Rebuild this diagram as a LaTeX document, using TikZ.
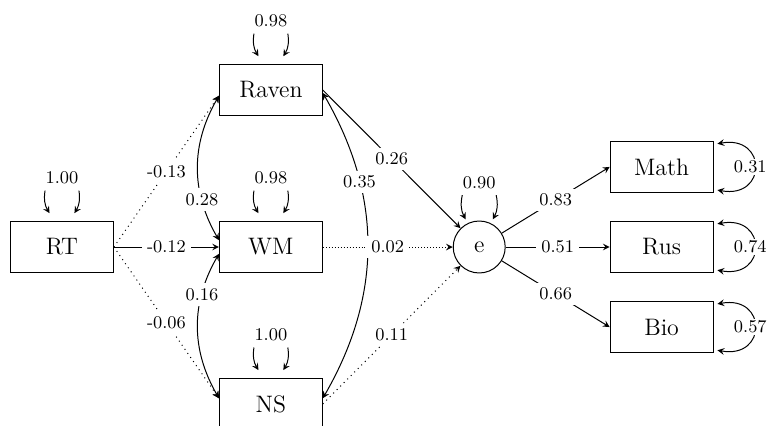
\documentclass[tikz,border=0pt]{standalone}
\usetikzlibrary{positioning,calc,arrows}
\tikzstyle{var} = [rectangle, minimum width=1.82cm, minimum height=0.9cm, text centered, draw=black, font=\large]
\tikzstyle{lat} = [circle, minimum size=0.92cm, inner sep=0pt, draw=black, font=\large]
\tikzstyle{lbl} = [fill=white, inner sep=2.5pt, font=\small]
\tikzstyle{arrow} = [draw, ->, >=stealth]
\tikzstyle{cov} = [draw, <->, >=stealth]

\begin{document}
\begin{tikzpicture}[line width=0.5pt]
    \useasboundingbox (-1.097,-3.168) rectangle (12.567,4.372);

    \node (RT) [var] at (0,0) {RT};
    \node (WM) [var, right=1.86cm of RT] {WM};
    \node (Raven) [var, above=1.86cm of WM] {Raven};
    \node (NS) [var, below=1.86cm of WM] {NS};
    \node (e) [lat, right=2.3cm of WM] {e};
    \node (Rus) [var, right=1.84cm of e] {Rus};
    \node (Math) [var, above=0.5cm of Rus] {Math};
    \node (Bio) [var, below=0.5cm of Rus] {Bio};

    % variances on top
    \node (vRT) [lbl, above=0.56cm of RT] {1.00};
    \node (vRaven) [lbl, above=0.56cm of Raven] {0.98};
    \node (vWM) [lbl, above=0.56cm of WM] {0.98};
    \node (vNS) [lbl, above=0.56cm of NS] {1.00};
    \node (ve) [lbl, above=0.47cm of e] {0.90};

    \draw [arrow] ([xshift=-0.3cm,yshift=-0.02cm]vRT.south) to[bend right=20] ([xshift=-0.22cm,yshift=0.14cm]RT.north);
    \draw [arrow] ([xshift=0.3cm,yshift=-0.02cm]vRT.south) to[bend left=20] ([xshift=0.22cm,yshift=0.14cm]RT.north);
    \draw [arrow] ([xshift=-0.3cm,yshift=-0.02cm]vRaven.south) to[bend right=20] ([xshift=-0.22cm,yshift=0.14cm]Raven.north);
    \draw [arrow] ([xshift=0.3cm,yshift=-0.02cm]vRaven.south) to[bend left=20] ([xshift=0.22cm,yshift=0.14cm]Raven.north);
    \draw [arrow] ([xshift=-0.3cm,yshift=-0.02cm]vWM.south) to[bend right=20] ([xshift=-0.22cm,yshift=0.14cm]WM.north);
    \draw [arrow] ([xshift=0.3cm,yshift=-0.02cm]vWM.south) to[bend left=20] ([xshift=0.22cm,yshift=0.14cm]WM.north);
    \draw [arrow] ([xshift=-0.3cm,yshift=-0.02cm]vNS.south) to[bend right=20] ([xshift=-0.22cm,yshift=0.14cm]NS.north);
    \draw [arrow] ([xshift=0.3cm,yshift=-0.02cm]vNS.south) to[bend left=20] ([xshift=0.22cm,yshift=0.14cm]NS.north);
    \draw [arrow] ([xshift=-0.3cm,yshift=-0.02cm]ve.south) to[bend right=20] ([xshift=-0.24cm,yshift=0.02cm]e.north);
    \draw [arrow] ([xshift=0.3cm,yshift=-0.02cm]ve.south) to[bend left=20] ([xshift=0.24cm,yshift=0.02cm]e.north);

    % residual variances on the right
    \draw [cov] ([xshift=0.07cm,yshift=0.41cm]Math.east) to[out=10, in=-10, looseness=2.8] node[lbl, inner sep=1pt, xshift=-0.08cm] {0.31} ([xshift=0.07cm,yshift=-0.41cm]Math.east);
    \draw [cov] ([xshift=0.07cm,yshift=0.41cm]Rus.east) to[out=10, in=-10, looseness=2.8] node[lbl, inner sep=1pt, xshift=-0.08cm] {0.74} ([xshift=0.07cm,yshift=-0.41cm]Rus.east);
    \draw [cov] ([xshift=0.07cm,yshift=0.41cm]Bio.east) to[out=10, in=-10, looseness=2.8] node[lbl, inner sep=1pt, xshift=-0.08cm] {0.57} ([xshift=0.07cm,yshift=-0.41cm]Bio.east);

    % covariances
    \draw [cov] ([yshift=-0.1cm]Raven.west) to[bend right=30] node[lbl, pos=0.72] {0.28} ([yshift=0.12cm]WM.west);
    \draw [cov] ([yshift=-0.12cm]WM.west) to[bend right=30] node[lbl, pos=0.28] {0.16} ([yshift=0.1cm]NS.west);
    \draw [cov] ([yshift=-0.05cm]Raven.east) to[bend left=30] node[lbl, pos=0.29] {0.35} ([yshift=0.1cm]NS.east);

    % regressions
    \draw [arrow, dotted] (RT.east) -- node[lbl] {-0.13} ([yshift=-0.1cm]Raven.west);
    \draw [arrow] (RT.east) -- node[lbl] {-0.12} (WM);
    \draw [arrow, dotted] (RT.east) -- node[lbl] {-0.06} ([yshift=0.1cm]NS.west);

    \draw [arrow] (Raven.east) -- node[lbl] {0.26} (e);
    \draw [arrow, densely dotted] (WM) -- node[lbl] {0.02} (e);
    \draw [arrow, dotted] (NS.east) -- node[lbl] {0.11} (e);

    \draw [arrow] (e) -- node[lbl] {0.83} (Math.west);
    \draw [arrow] (e) -- node[lbl] {0.51} (Rus);
    \draw [arrow] (e) -- node[lbl] {0.66} (Bio.west);

\end{tikzpicture}
\end{document}
